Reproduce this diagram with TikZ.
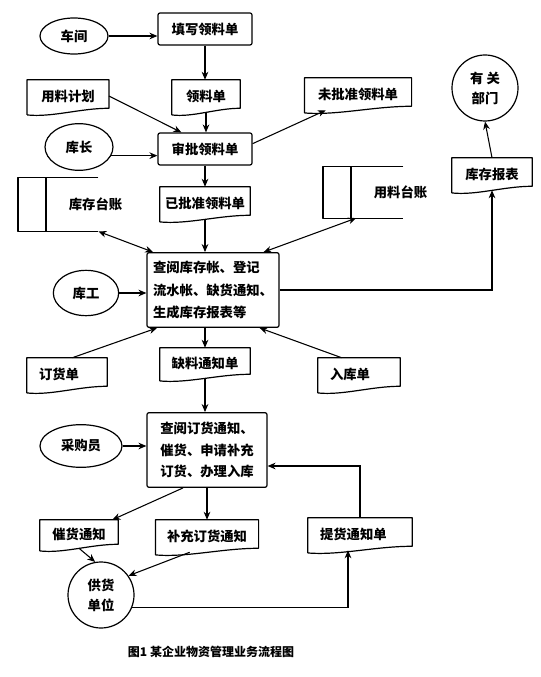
\documentclass[tikz,border=0pt]{standalone}
\usepackage{fontspec}
\newfontfamily\cjk{Noto Sans CJK SC}
\usetikzlibrary{shapes.geometric, arrows.meta, calc, positioning}
\tikzset{
  lbl/.style={font=\cjk\bfseries\fontsize{10pt}{16pt}\selectfont},
  boxline/.style={line width=0.9pt, line join=round},
  flow/.style={line width=0.8pt, -{Stealth[length=6pt,width=5pt]}},
  twoway/.style={line width=0.8pt, {Stealth[length=6pt,width=5pt]}-{Stealth[length=6pt,width=5pt]}},
  procbox/.style={lbl, draw, boxline, rounded corners=1.5pt, minimum height=24pt},
  actor/.style={lbl, draw, boxline, ellipse, inner sep=0pt},
  endpt/.style={lbl, draw, boxline, circle, minimum size=49.5pt, inner sep=0pt,
    align=center, font=\cjk\bfseries\fontsize{10pt}{15pt}\selectfont},
  docbox/.style={lbl, minimum height=24pt, inner sep=2pt,
    append after command={\pgfextra{
      \draw[boxline] ([yshift=-2pt]\tikzlastnode.south west) -- (\tikzlastnode.north west)
        -- (\tikzlastnode.north east) -- ([yshift=3pt]\tikzlastnode.south east)
        .. controls ([yshift=3pt]$(\tikzlastnode.south east)!0.35!(\tikzlastnode.south west)$)
        and ([yshift=-4pt]$(\tikzlastnode.south east)!0.7!(\tikzlastnode.south west)$)
        .. ([yshift=-2pt]\tikzlastnode.south west);
    }}},
  lefttext/.style={align=left, inner xsep=9pt, text width=#1},
  ledger/.style={lbl, text width=76pt, align=right, inner sep=2pt,
    append after command={\pgfextra{
      \draw[boxline] ([xshift=-20pt]\tikzlastnode.north east) -- (\tikzlastnode.north west)
        -- (\tikzlastnode.south west) -- ([xshift=-20pt]\tikzlastnode.south east);
      \draw[boxline] ([xshift=21pt]\tikzlastnode.north west) -- ([xshift=21pt]\tikzlastnode.south west);
    }}}
}
\begin{document}
\begin{tikzpicture}[x=0.75pt, y=-0.75pt]
  \useasboundingbox (0,0) rectangle (541,677);
  % requisition
  \node[actor, minimum width=51pt, minimum height=27pt] (chejian) at (74,36) {车间};
  \node[procbox, minimum width=70.5pt] (tianxie) at (205,29) {填写领料单};
  \node[docbox, minimum width=51pt] (lingliao) at (206,96) {领料单};
  \node[docbox, minimum width=61pt] (jihua) at (68,96) {用料计划};
  \node[procbox, minimum width=70.5pt] (shenpi) at (205,149) {审批领料单};
  \node[actor, minimum width=51pt, minimum height=35pt] (kuzhang) at (79,147) {库长};
  \node[docbox, minimum width=80pt] (weipi) at (358,94) {未批准领料单};
  \node[endpt] (bumen) at (485,88) {有\ 关\\部门};
  \node[docbox, minimum width=60pt] (baobiao) at (492,174) {库存报表};
  \node[docbox, minimum width=67.5pt] (yipi) at (205,203) {已批准领料单};
  % ledgers
  \node[ledger, minimum height=40pt] (kctz) at (71.5,204.5) {库存台账};
  \node[ledger, minimum height=38pt] (yltz) at (376.5,192.5) {用料台账};
  % warehouse work
  \node[procbox, minimum width=99pt, minimum height=56pt, align=left,
    font=\cjk\bfseries\fontsize{10pt}{17pt}\selectfont] (chayue) at (213,290)
    {查阅库存帐、登记\\流水帐、缺货通知、\\生成库存报表等};
  \node[actor, minimum width=49pt, minimum height=34pt] (kugong) at (86,293) {库工};
  \node[docbox, minimum width=67.5pt, minimum height=22.5pt] (queliao) at (205,363) {缺料通知单};
  \node[docbox, lefttext=42pt] (dinghuo) at (67,374) {订货单};
  \node[docbox, lefttext=43.5pt] (ruku) at (359,374) {入库单};
  % purchasing
  \node[procbox, minimum width=90pt, minimum height=56pt, align=left] (caigou) at (207,450)
    {查阅订货通知、\\催货、申请补充\\订货、办理入库};
  \node[actor, minimum width=61.5pt, minimum height=32pt] (caigouyuan) at (81,446) {采购员};
  \node[docbox, minimum width=58.5pt, minimum height=21pt] (cuihuo) at (79,534) {催货通知};
  \node[docbox, minimum width=77pt] (buchong) at (207,536) {补充订货通知};
  \node[docbox, lefttext=60pt] (tihuo) at (360,534) {提货通知单};
  \node[endpt] (gonghuo) at (101,595) {供货\\单位};
  \node[font=\cjk\bfseries\fontsize{9pt}{11pt}\selectfont] (caption) at (211,652)
    {图1\ 某企业物资管理业务流程图};
  % connectors
  \draw[flow] (chejian.east) -- (chejian.east -| tianxie.west);
  \draw[flow] (tianxie.south) -- (tianxie.south |- lingliao.north);
  \draw[flow] (lingliao.south) -- (lingliao.south |- shenpi.north);
  \draw[flow] (jihua.east) -- ([xshift=18pt]shenpi.north west);
  \draw[flow] (kuzhang.-15) -- (kuzhang.-15 -| shenpi.west);
  \draw[flow] ([yshift=4pt]shenpi.east) -- ([xshift=16pt]weipi.south west);
  \draw[flow] (shenpi.south) -- (shenpi.south |- yipi.north);
  \draw[flow] (yipi.south) -- (yipi.south |- chayue.north);
  \draw[twoway] ([xshift=-20pt]kctz.south east) -- ([xshift=5pt]chayue.north west);
  \draw[twoway] ([xshift=25pt]yltz.south west) -- ([xshift=-12pt]chayue.north east);
  \draw[flow] (kugong.east) -- (kugong.east -| chayue.west);
  \draw[flow] (chayue.east) -| (baobiao.south);
  \draw[flow] (baobiao.north) -- (bumen.south);
  \draw[flow] (queliao.north |- chayue.south) -- (queliao.north);
  \draw[flow] ([xshift=4pt]dinghuo.north) -- ([xshift=8pt]chayue.south west);
  \draw[flow] ([xshift=-13pt]ruku.north) -- ([xshift=-15pt]chayue.south east);
  \draw[flow] (queliao.south) -- (queliao.south |- caigou.north);
  \draw[flow] (caigouyuan.east) -- (caigouyuan.east -| caigou.west);
  \draw[flow] (tihuo.north) |- ([yshift=-12pt]caigou.east);
  \draw[flow] ([xshift=-18pt]caigou.south) -- ([xshift=25pt]cuihuo.north);
  \draw[flow] (caigou.south) -- (caigou.south |- buchong.north);
  \draw[flow] (cuihuo.south) -- (gonghuo.100);
  \draw[flow] ([xshift=-13pt]buchong.south) -- (gonghuo.35);
  \draw[flow] (gonghuo.-21) -| ([xshift=-9pt]tihuo.south);
\end{tikzpicture}
\end{document}
